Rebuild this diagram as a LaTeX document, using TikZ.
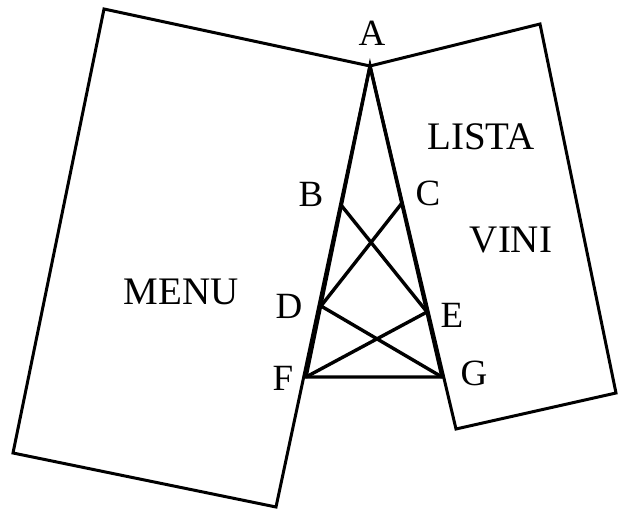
\documentclass[tikz,border=0pt]{standalone}
\usepackage{fontspec}
\setmainfont{Liberation Serif}
\begin{document}
\begin{tikzpicture}[x=1pt,y=-1pt,
  edge/.style={line width=3pt,line join=miter},
  bar/.style={line width=3.4pt,line cap=round},
  lbl/.style={font=\fontsize{37}{39}\selectfont,inner sep=0pt},
  big/.style={font=\fontsize{39}{41}\selectfont,inner sep=0pt}]
\useasboundingbox (0,0) rectangle (619,510);
% points
\coordinate (A) at (370,66);
\coordinate (B) at (341,205);
\coordinate (C) at (402,203);
\coordinate (D) at (321,306);
\coordinate (E) at (427,312);
\coordinate (F) at (306,377);
\coordinate (G) at (442,377);
\coordinate (L1) at (104,9);
\coordinate (L2) at (276,507);
\coordinate (L3) at (13,453);
\coordinate (R1) at (540,24);
\coordinate (R2) at (616,393);
\coordinate (R3) at (456,429);
% panels
\draw[edge] (L1) -- (A) -- (L2) -- (L3) -- cycle;
\draw[edge] (A) -- (R1) -- (R2) -- (R3) -- cycle;
% structure
\draw[bar] (A) -- (F) -- (G) -- cycle;
\draw[bar] (B) -- (E);
\draw[bar] (C) -- (D);
\draw[bar] (D) -- (G);
\draw[bar] (E) -- (F);
% labels
\node[lbl] (lA) at (372,33) {A};
\node[lbl] (lB) at (311,194) {B};
\node[lbl] (lC) at (428,193) {C};
\node[lbl] (lD) at (289,306) {D};
\node[lbl] (lE) at (452,315) {E};
\node[lbl] (lF) at (283,378) {F};
\node[lbl] (lG) at (474,373) {G};
\node[big] (menu) at (181,292) {MENU};
\node[big] (lista) at (481,137) {LISTA};
\node[big] (vini) at (511,240) {VINI};
\end{tikzpicture}
\end{document}
